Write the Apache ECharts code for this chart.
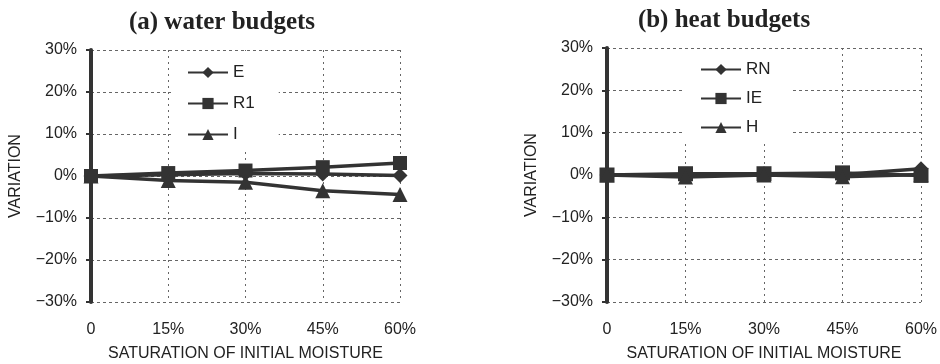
<!DOCTYPE html>
<html><head><meta charset="utf-8">
<script src="https://cdn.jsdelivr.net/npm/echarts@6/dist/echarts.min.js"></script>
<style>html,body{margin:0;padding:0;background:#fff}#c{width:940px;height:364px}</style>
</head><body><div id="c"></div>
<script>
const categories = ['0', '15%', '30%', '45%', '60%'];
const yTicks = [-30, -20, -10, 0, 10, 20, 30];
const waterE = [0, 0.3, 0.6, 0.5, 0.1];
const waterR1 = [0, 0.7, 1.3, 2.1, 3.1];
const waterI = [0, -1.1, -1.5, -3.5, -4.4];
const heatRN = [0, 0.1, 0.3, 0.1, 1.5];
const heatIE = [0, 0.3, 0.3, 0.5, -0.1];
const heatH = [0, -0.5, 0, -0.4, 0.1];

const dark = '#333';
const fnt = 'Liberation Sans';
const fmt = v => (v < 0 ? '\u2212' + Math.abs(v) : v) + '%';
function xAxisDef(i){
  return {type:'category', gridIndex:i, data:categories, boundaryGap:false,
    axisLine:{show:false}, axisTick:{show:false},
    axisLabel:{fontSize:16, color:'#222', margin:20, fontFamily:fnt},
    splitLine:{show:true, lineStyle:{color:'#666', type:[2,4], width:1}},
    name:'SATURATION OF INITIAL MOISTURE', nameLocation:'middle', nameGap:44,
    nameTextStyle:{fontSize:16, color:'#222', fontFamily:fnt}};
}
function yAxisDef(i){
  return {type:'value', gridIndex:i, min:yTicks[0], max:yTicks[yTicks.length-1], interval:10,
    axisLine:{show:true, onZero:false, lineStyle:{color:dark, width:4}},
    axisTick:{show:true, length:5, lineStyle:{color:dark, width:2}},
    axisLabel:{fontSize:16, color:'#222', margin:14, formatter:fmt, fontFamily:fnt},
    splitLine:{show:true, lineStyle:{color:'#666', type:[3,3], width:1}},
    name:'VARIATION', nameLocation:'middle', nameGap:67, nameRotate:90,
    nameTextStyle:{fontSize:16, color:'#222', fontFamily:fnt}};
}
function ser(name, data, sym, size, i){
  return {type:'line', name, data, xAxisIndex:i, yAxisIndex:i, symbol:sym, symbolSize:size,
    showAllSymbol:true, lineStyle:{color:dark, width:3.5}, itemStyle:{color:dark},
    animation:false};
}
const legendCommon = {orient:'vertical', backgroundColor:'#fff', itemWidth:40, itemHeight:14,
  textStyle:{fontSize:17, color:'#222', fontFamily:fnt}};
const option = {
  backgroundColor:'#fff',
  animation:false,
  title:[
    {text:'(a) water budgets', left:217, top:5, textAlign:'center',
     textStyle:{fontFamily:'Liberation Serif', fontWeight:'bold', fontSize:25, color:'#222'}},
    {text:'(b) heat budgets', left:719, top:3, textAlign:'center',
     textStyle:{fontFamily:'Liberation Serif', fontWeight:'bold', fontSize:25, color:'#222'}}
  ],
  grid:[
    {left:91, right:540, top:50, bottom:62, outerBoundsMode:'none', containLabel:false},
    {left:607, right:19, top:48, bottom:62, outerBoundsMode:'none', containLabel:false}
  ],
  xAxis:[xAxisDef(0), xAxisDef(1)],
  yAxis:[yAxisDef(0), yAxisDef(1)],
  legend:[
    Object.assign({}, legendCommon, {data:['E','R1','I'], left:171, top:51, itemGap:14, padding:[13,24,7,16]}),
    Object.assign({}, legendCommon, {data:['RN','IE','H'], left:683, top:49, itemGap:12, padding:[12,20,7,17]})
  ],
  series:[
    ser('E', waterE, 'diamond', 15, 0),
    ser('R1', waterR1, 'rect', 14, 0),
    ser('I', waterI, 'triangle', 15, 0),
    ser('RN', heatRN, 'diamond', 15, 1),
    ser('IE', heatIE, 'rect', 15, 1),
    ser('H', heatH, 'triangle', 15, 1)
  ]
};
echarts.init(document.getElementById('c'), null, {renderer:'canvas'}).setOption(option);
</script></body></html>
